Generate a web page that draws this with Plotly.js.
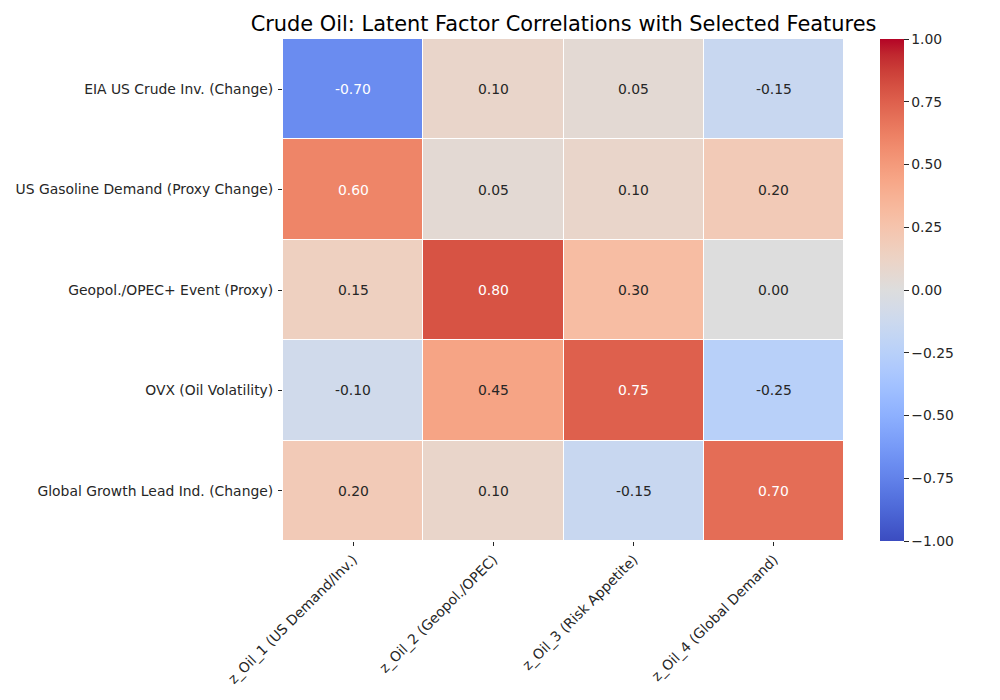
<!DOCTYPE html>
<html>
<head>
<meta charset="utf-8">
<script src="https://cdn.plot.ly/plotly-3.0.1.min.js"></script>
<style>
  body { margin: 0; background: #fff; }
  #plotArea { width: 1000px; height: 700px; }
</style>
</head>
<body>
<div id="plotArea"></div>
<script>
// factor names (columns) and features (rows)
var factors = ["z_Oil_1 (US Demand/Inv.)", "z_Oil_2 (Geopol./OPEC)", "z_Oil_3 (Risk Appetite)", "z_Oil_4 (Global Demand)"];
var features = ["EIA US Crude Inv. (Change)", "US Gasoline Demand (Proxy Change)", "Geopol./OPEC+ Event (Proxy)", "OVX (Oil Volatility)", "Global Growth Lead Ind. (Change)"];

var eiaInv = [-0.70, 0.10, 0.05, -0.15];
var gasDemand = [0.60, 0.05, 0.10, 0.20];
var geopolEvent = [0.15, 0.80, 0.30, 0.00];
var ovx = [-0.10, 0.45, 0.75, -0.25];
var globalGrowth = [0.20, 0.10, -0.15, 0.70];

var corr = [eiaInv, gasDemand, geopolEvent, ovx, globalGrowth];

// matplotlib "coolwarm", sampled
var cwRGB = [
  [59,76,192],[68,90,204],[77,104,215],[87,117,225],[98,130,234],[108,142,241],
  [119,154,247],[130,165,251],[141,176,254],[152,185,255],[163,194,255],[174,201,253],
  [184,208,249],[194,213,244],[204,217,238],[213,219,230],[221,221,221],[229,216,209],
  [236,211,197],[241,204,185],[245,196,173],[247,187,160],[247,177,148],[247,166,135],
  [244,154,123],[241,141,111],[236,127,99],[229,112,88],[222,96,77],[213,80,66],
  [203,62,56],[192,40,47],[180,4,38]
];
var coolwarm = cwRGB.map(function(c, i) {
  return [i / (cwRGB.length - 1), "rgb(" + c.join(",") + ")"];
});

// pick text colour like seaborn does (luminance of the cell colour)
function cellColor(v) {
  var t = (v + 1) / 2 * (cwRGB.length - 1);
  var i = Math.min(Math.floor(t), cwRGB.length - 2);
  var f = t - i;
  return cwRGB[i].map(function(a, k) { return a + (cwRGB[i + 1][k] - a) * f; });
}
function lum(rgb) {
  var c = rgb.map(function(x) {
    x = x / 255;
    return x <= 0.03928 ? x / 12.92 : Math.pow((x + 0.055) / 1.055, 2.4);
  });
  return 0.2126 * c[0] + 0.7152 * c[1] + 0.0722 * c[2];
}

var annotations = [];
features.forEach(function(feat, r) {
  factors.forEach(function(fac, c) {
    var v = corr[r][c];
    annotations.push({
      x: fac, y: feat, xref: "x", yref: "y",
      text: v.toFixed(2), showarrow: false,
      font: {size: 13.9, color: lum(cellColor(v)) > 0.408 ? "#262626" : "#ffffff"}
    });
  });
});

var trace = {
  type: "heatmap",
  x: factors,
  y: features,
  z: corr,
  zmin: -1, zmax: 1,
  colorscale: coolwarm,
  xgap: 1, ygap: 1,
  hoverongaps: false,
  colorbar: {
    x: 1.064, xanchor: "left", xpad: 0,
    y: 0.5, yanchor: "middle", ypad: 0,
    len: 1, thickness: 24,
    outlinewidth: 0,
    ticks: "outside", ticklen: 5, tickwidth: 1, tickcolor: "#262626",
    tickvals: [-1, -0.75, -0.5, -0.25, 0, 0.25, 0.5, 0.75, 1],
    tickformat: ".2f",
    tickfont: {size: 13.9, color: "#262626"}
  }
};

var layout = {
  width: 1000, height: 700,
  margin: {l: 283, r: 156, t: 39, b: 159},
  paper_bgcolor: "#ffffff",
  plot_bgcolor: "#ffffff",
  font: {family: "DejaVu Sans, sans-serif", color: "#262626"},
  title: {
    text: "Crude Oil: Latent Factor Correlations with Selected Features",
    font: {size: 20.9, color: "#000000"},
    x: 0.5, xref: "paper", xanchor: "center",
    y: 1 - 24 / 700, yref: "container", yanchor: "middle"
  },
  xaxis: {
    type: "category",
    tickangle: -45,
    ticks: "outside", ticklen: 4, tickcolor: "#262626",
    tickfont: {size: 13.9, color: "#262626"},
    showgrid: false, zeroline: false, showline: false
  },
  yaxis: {
    type: "category",
    autorange: "reversed",
    ticks: "outside", ticklen: 4, tickcolor: "#262626",
    ticklabelstandoff: 2,
    tickfont: {size: 13.9, color: "#262626"},
    showgrid: false, zeroline: false, showline: false
  },
  annotations: annotations
};

Plotly.newPlot("plotArea", [trace], layout, {displayModeBar: false});
</script>
</body>
</html>
